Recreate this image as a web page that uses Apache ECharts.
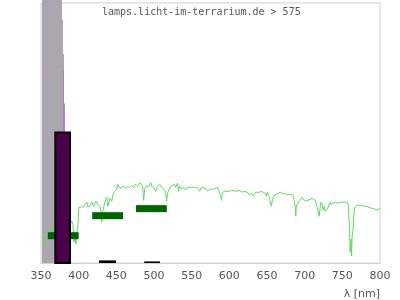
<!DOCTYPE html>
<html><head><meta charset="utf-8">
<script src="https://cdn.jsdelivr.net/npm/echarts@6/dist/echarts.min.js"></script>
<style>html,body{margin:0;padding:0;background:#fff}#c{width:400px;height:300px}</style>
</head><body><div id="c"></div>
<script>
const titleText = 'lamps.licht-im-terrarium.de > 575';
const axisName = 'λ [nm]';
const xTicks = [350, 400, 450, 500, 550, 600, 650, 700, 750, 800];

// spectrum (relative intensity, 0-100)
const specNm = [351.3,352.6,355.3,356.6,359.3,363.2,367,389,391.0,392.4,393.7,395.0,396.3,397.6,399.0,400.3,401.6,402.9,405.6,408.2,410.9,412.2,414.9,417.5,420.1,422.8,425.4,428.1,429.4,430.7,432.1,434.7,437.4,438.7,441.3,444.0,445.3,447.9,450.6,451.9,454.6,457.2,459.9,462.5,465.1,467.8,470.4,473.1,475.7,478.4,481.0,483.7,485.0,486.3,487.6,490.3,492.9,495.6,496.9,499.6,502.2,504.9,507.5,510.1,512.8,515.4,516.8,518.1,519.4,522.1,524.7,527.3,528.7,531.3,532.6,534.0,536.6,539.3,541.9,544.6,547.2,549.8,552.5,555.1,557.8,560.4,563.1,565.7,568.4,571.0,573.7,576.3,579.0,581.6,584.3,586.9,588.2,589.6,590.9,593.5,596.2,598.8,600.1,602.8,605.4,608.1,610.7,613.4,616.0,618.7,621.3,624.0,626.6,629.3,631.9,634.6,637.2,639.8,642.5,645.1,647.8,649.1,650.4,653.1,654.4,655.7,657.1,659.7,662.4,665.0,667.6,670.3,672.9,676.9,680.9,684.8,686.2,687.5,688.2,688.8,690.1,692.8,694.1,696.8,699.4,702.1,704.7,707.3,710.0,712.6,714.0,716.6,717.9,719.3,720.6,721.9,723.2,724.6,725.9,727.2,729.9,731.2,733.8,735.2,737.8,740.4,743.1,745.7,748.4,751.0,753.7,756.3,757.6,759.0,759.6,760.3,761.6,762.3,762.9,764.3,765.6,766.9,769.6,772.2,776.2,780.1,782.8,785.4,788.1,790.7,793.4,796.0,797.4,800.0];
const specVal = [10.2,10.7,9.6,8.0,9.2,13.8,14.5,15,16.1,14.9,8.0,10.0,7.3,11.1,14.9,21.5,22.2,21.8,21.5,22.2,23.4,21.5,21.8,23.4,21.8,23.8,22.6,21.8,19.9,15.7,19.9,23.4,25.3,21.8,24.9,23.8,26.1,27.6,28.4,30.3,28.7,29.1,29.5,28.7,29.5,29.1,29.9,29.1,30.3,29.5,30.7,30.3,29.1,24.1,28.4,29.9,29.1,31.0,29.5,29.1,27.6,29.5,30.3,29.1,28.4,27.2,23.8,26.8,28.0,29.5,29.1,30.3,29.1,30.7,27.6,29.5,28.4,29.1,28.0,29.1,28.7,29.1,29.1,28.7,29.1,27.6,29.1,28.4,28.7,27.6,28.4,28.0,28.4,28.7,29.1,28.4,26.1,24.1,27.2,27.6,27.6,28.0,27.6,28.0,28.0,27.6,27.6,28.0,27.2,27.6,28.0,27.2,26.1,26.8,25.7,27.2,27.6,27.2,27.6,27.2,26.8,25.7,27.2,25.3,25.7,21.8,24.1,26.1,26.4,26.8,27.2,26.8,26.4,26.4,26.4,26.1,25.7,21.5,18.0,21.5,22.6,23.8,23.4,25.3,24.1,23.8,24.5,24.5,24.9,24.5,24.1,23.8,19.9,18.0,21.5,23.4,22.6,20.3,21.8,19.9,20.7,21.5,23.4,22.6,23.0,23.4,23.0,23.4,23.4,23.0,23.4,23.4,23.0,22.6,13.8,4.2,9.2,2.7,10.0,13.0,19.5,21.5,22.2,22.2,22.2,21.8,21.8,21.5,21.1,20.7,20.7,21.1,20.3,21.1];

// UV part (gray, with light purple fringe)
const uvGrayFrom = [351.3, 377.9, 379.2];
const uvGrayTo = [377.9, 379.2, 380.5];
const uvGrayVal = [110, 93.5, 80.5];
const uvFringeFrom = [379.2, 380.5];
const uvFringeTo = [380.5, 381.8];
const uvFringeVal = [73.9, 61.3];

// band markers (dark green)
const bandFrom = [359, 418, 476];
const bandTo = [400, 459, 517];
const bandVal = [10.5, 18.2, 20.9];

// peak bar (dark purple)
const peakFrom = [369];
const peakTo = [388.5];
const peakVal = [50.2];

// small black bars
const smallFrom = [427, 487];
const smallTo = [449.6, 508];
const smallVal = [1.0, 0.6];

const zip3 = (a, b, c) => a.map((v, i) => [v, b[i], c[i]]);

function rectRender(style) {
  return function (params, api) {
    const p0 = api.coord([api.value(0), 0]);
    const p1 = api.coord([api.value(1), api.value(2)]);
    return {
      type: 'rect',
      shape: { x: p0[0], y: p1[1], width: p1[0] - p0[0], height: p0[1] - p1[1] },
      style: style
    };
  };
}
function bandRender(params, api) {
  const p0 = api.coord([api.value(0), api.value(2)]);
  const p1 = api.coord([api.value(1), api.value(2)]);
  return {
    type: 'rect',
    shape: { x: p0[0], y: p0[1] - 3.5, width: p1[0] - p0[0], height: 7 },
    style: { fill: '#006400' }
  };
}

const chart = echarts.init(document.getElementById('c'), null, { renderer: 'canvas' });
chart.setOption({
  animation: false,
  title: {
    text: titleText, left: 102, top: 7, padding: 0,
    textStyle: { fontFamily: 'DejaVu Sans Mono', fontSize: 10, fontWeight: 'normal', color: '#555' }
  },
  grid: { left: 41, right: 20, top: 3, bottom: 36, show: true, borderColor: '#d0d0d0', borderWidth: 1 },
  xAxis: {
    type: 'value', min: xTicks[0], max: xTicks[xTicks.length - 1], interval: 50,
    name: axisName, nameLocation: 'end', nameGap: 0,
    nameTextStyle: { align: 'right', verticalAlign: 'top', padding: [26, 0, 0, 0], fontFamily: 'DejaVu Sans', fontSize: 11, color: '#555' },
    axisLine: { show: true, lineStyle: { color: '#d0d0d0' } },
    axisTick: { show: false },
    splitLine: { show: false },
    axisLabel: { color: '#555', fontFamily: 'DejaVu Sans', fontSize: 11, margin: 8 }
  },
  yAxis: {
    type: 'value', min: 0, max: 100,
    axisLine: { show: false }, axisTick: { show: false }, axisLabel: { show: false }, splitLine: { show: false }
  },
  series: [
    { type: 'custom', z: 1, clip: false, data: zip3(uvGrayFrom, uvGrayTo, uvGrayVal), renderItem: rectRender({ fill: '#aca6ae' }), encode: { x: [0, 1], y: 2 } },
    { type: 'custom', z: 1, clip: false, data: zip3(uvFringeFrom, uvFringeTo, uvFringeVal), renderItem: rectRender({ fill: '#b07fc0' }), encode: { x: [0, 1], y: 2 } },
    { type: 'line', z: 2, data: specNm.map((x, i) => [x, specVal[i]]), showSymbol: false, symbol: 'none',
      lineStyle: { color: '#5ddc5d', width: 1 }, itemStyle: { color: '#5ddc5d' } },
    { type: 'custom', z: 3, data: zip3(bandFrom, bandTo, bandVal), renderItem: bandRender, encode: { x: [0, 1], y: 2 } },
    { type: 'custom', z: 4, data: zip3(peakFrom, peakTo, peakVal), renderItem: rectRender({ fill: '#4b004b', stroke: '#000', lineWidth: 2 }), encode: { x: [0, 1], y: 2 } },
    { type: 'custom', z: 5, data: zip3(smallFrom, smallTo, smallVal), renderItem: rectRender({ fill: '#000' }), encode: { x: [0, 1], y: 2 } }
  ]
});
</script>
</body></html>
